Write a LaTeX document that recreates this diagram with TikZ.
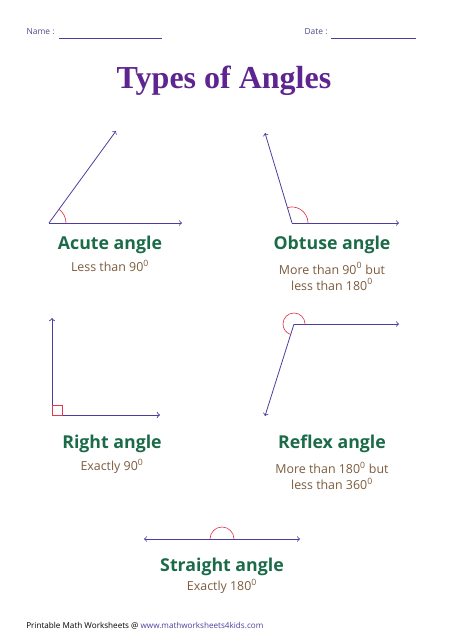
\documentclass[tikz,border=0pt]{standalone}
\usepackage{fontspec}
\setmainfont{Open Sans}
\newfontfamily\titlefont{Liberation Serif}
\usepackage{xcolor}
\usepackage{tikz}
\definecolor{cray}{HTML}{4B3F9B}
\definecolor{cmark}{HTML}{E03A4E}
\definecolor{cname}{HTML}{1C6B48}
\definecolor{cnote}{HTML}{7B5B3C}
\definecolor{ctitle}{HTML}{5E2590}
\definecolor{chead}{HTML}{4A4A86}
\newcommand{\degz}{\textsuperscript{0}}
\tikzset{
  ray/.style={->,cray,line width=0.6pt},
  anglemark/.style={cmark,line width=0.5pt},
  anglename/.style={cname,font=\fontsize{13.3}{15}\selectfont\bfseries},
  anglenote/.style={cnote,font=\fontsize{9.3}{12}\selectfont,align=center}
}

\begin{document}
\begin{tikzpicture}[x=0.75pt,y=0.75pt,>=to]
  \useasboundingbox (0,0) rectangle (449,638);
  % header
  \node[chead,anchor=west,font=\fontsize{6.3}{7}\selectfont,inner sep=1pt] (name) at (25,606) {Name :};
  \coordinate (nameend) at (162,600);
  \draw[cray,line width=0.6pt] (name.east|-nameend) ++(3,0) -- (nameend);
  \node[chead,anchor=west,font=\fontsize{6.3}{7}\selectfont,inner sep=1pt] (date) at (303,606) {Date :};
  \coordinate (dateend) at (416,600);
  \draw[cray,line width=0.6pt] (date.east|-dateend) ++(2,0) -- (dateend);
  \node[ctitle,font=\titlefont\fontsize{24}{26}\selectfont\bfseries] (title) at (224,557) {Types of Angles};

  % acute
  \coordinate (av) at (49,415);
  \coordinate (ah) at (182,415);
  \coordinate (ar) at (116,507);
  \draw[ray] (av) -- (ah);
  \draw[ray] (av) -- (ar);
  \draw[anglemark] (av) ++(17,0) arc (0:54:17);
  \node[anglename] (aname) at (110,393) {Acute angle};
  \node[anglenote] (anote) at (110,372) {Less than 90\degz};

  % obtuse
  \coordinate (ov) at (292,415);
  \coordinate (oh) at (399,415);
  \coordinate (or) at (265,505);
  \draw[ray] (ov) -- (oh);
  \draw[ray] (ov) -- (or);
  \draw[anglemark] (ov) ++(16,0) arc (0:107:16);
  \node[anglename] (oname) at (332,393) {Obtuse angle};
  \node[anglenote,anchor=north] (onote) at (332,380) {More than 90\degz{} but\\less than 180\degz};

  % right
  \coordinate (rv) at (52,223);
  \coordinate (ru) at (52,320);
  \coordinate (rh) at (160,223);
  \draw[ray,line width=0.7pt] (rv) -- (ru);
  \draw[ray,line width=0.7pt] (rv) -- (rh);
  \draw[anglemark,line width=0.7pt] (rv) rectangle ++(10,10);
  \node[anglename] (rname) at (112,194) {Right angle};
  \node[anglenote] (rnote) at (112,172) {Exactly 90\degz};

  % reflex
  \coordinate (xv) at (294,314);
  \coordinate (xh) at (399,314);
  \coordinate (xr) at (265,222);
  \draw[ray] (xv) -- (xh);
  \draw[ray] (xv) -- (xr);
  \draw[anglemark] (xv) ++(11,0) arc (0:252:11);
  \node[anglename] (xname) at (332,194) {Reflex angle};
  \node[anglenote,anchor=north] (xnote) at (332,181) {More than 180\degz{} but\\less than 360\degz};

  % straight
  \coordinate (sl) at (144,99);
  \coordinate (sr) at (300,99);
  \draw[ray,<->] (sl) -- (sr);
  \draw[anglemark] (222,99) ++(12,0) arc (0:180:12);
  \node[anglename] (sname) at (222,71) {Straight angle};
  \node[anglenote] (snote) at (222,52) {Exactly 180\degz};

  % footer
  \node[anchor=west,font=\fontsize{6.1}{7}\selectfont,inner sep=0pt] (foot) at (26,12)
    {Printable Math Worksheets @ \textcolor{cray}{www.mathworksheets4kids.com}};
\end{tikzpicture}
\end{document}
